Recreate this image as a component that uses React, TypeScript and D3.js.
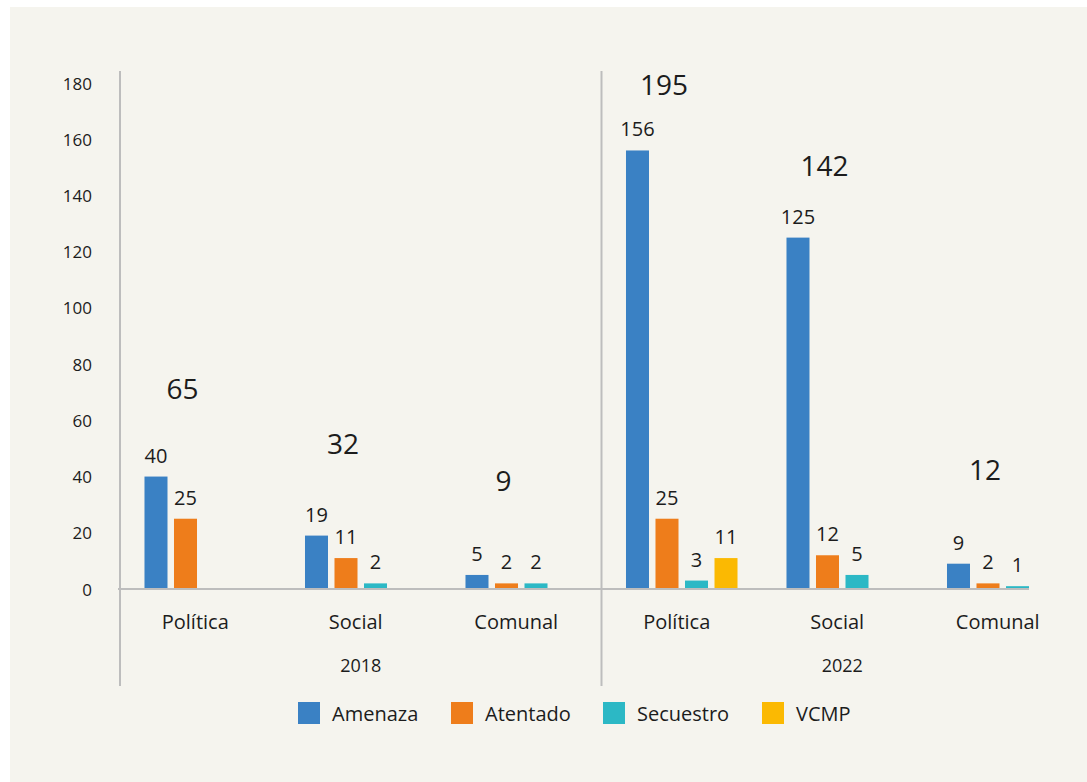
import React from "react";
import * as d3 from "d3";

const years = ["2018", "2022"];
const categories = ["Política", "Social", "Comunal"];
const series = ["Amenaza", "Atentado", "Secuestro", "VCMP"];
const seriesColors = ["#3a81c4", "#ee7d1b", "#2cb8c5", "#fbb902"];
// values per year, per category, per series (null = no bar)
const values2018: (number | null)[][] = [
  [40, 25, null, null],
  [19, 11, 2, null],
  [5, 2, 2, null],
];
const values2022: (number | null)[][] = [
  [156, 25, 3, 11],
  [125, 12, 5, null],
  [9, 2, 1, null],
];
const totals2018 = [65, 32, 9];
const totals2022 = [195, 142, 12];
const yTicks = [0, 20, 40, 60, 80, 100, 120, 140, 160, 180];

const W = 1087;
const H = 782;
const FONT = "'Open Sans', 'DejaVu Sans', sans-serif";
const TEXT = "#1c1c1c";
const AXIS = "#bdbdbd";

type Group = { key: string; year: string; cat: string; vals: (number | null)[]; total: number };

const groups: Group[] = [];
years.forEach((yr, yi) => {
  const vs = yi === 0 ? values2018 : values2022;
  const ts = yi === 0 ? totals2018 : totals2022;
  categories.forEach((c, ci) => {
    groups.push({ key: `${yr}-${c}`, year: yr, cat: c, vals: vs[ci], total: ts[ci] });
  });
});

export default function App() {
  const y = d3.scaleLinear().domain([0, 180]).range([589, 83]);
  const x0 = d3
    .scaleBand<string>()
    .domain(groups.map((g) => g.key))
    .range([120, 1083])
    .paddingInner(0)
    .paddingOuter(0);
  const x1 = d3
    .scaleBand<string>()
    .domain(series)
    .range([0, x0.bandwidth()])
    .paddingInner(0.22)
    .paddingOuter(0.83);
  const bw = x1.bandwidth();

  const yearCenter = (yr: string) => {
    const gs = groups.filter((g) => g.year === yr);
    const a = x0(gs[0].key)!;
    const b = x0(gs[gs.length - 1].key)! + x0.bandwidth();
    return (a + b) / 2;
  };
  const dividerX = x0(groups[categories.length].key)!;
  const lastGroup = groups[groups.length - 1];
  const lastIdx = lastGroup.vals.reduce((acc, v, i) => (v != null ? i : acc), 0);
  const baselineEnd = x0(lastGroup.key)! + x1(series[lastIdx])! + bw;

  // legend layout
  const legendWidths = [88, 87, 94, 57];
  const legendGapText = 12;
  const legendGapItem = 31;
  const sq = 22;
  let lx = 298;
  const legendItems = series.map((s, i) => {
    const item = { s, i, x: lx };
    lx += sq + legendGapText + legendWidths[i] + legendGapItem;
    return item;
  });

  return (
    <svg
      width={W}
      height={H}
      style={{ position: "fixed", left: 0, top: 0, background: "#ffffff" }}
      fontFamily={FONT}
    >
      <rect x={10} y={7} width={W - 10} height={H - 7} fill="#f5f4ee" />

      {/* y tick labels */}
      {yTicks.map((t) => (
        <text
          key={t}
          x={92}
          y={y(t)}
          textAnchor="end"
          dominantBaseline="central"
          fontSize={17}
          fill={TEXT}
        >
          {t}
        </text>
      ))}

      {/* axes */}
      <line x1={120} x2={120} y1={71} y2={686} stroke={AXIS} strokeWidth={2} />
      <line x1={dividerX} x2={dividerX} y1={71} y2={686} stroke={AXIS} strokeWidth={2} />

      {/* bars */}
      {groups.map((g) => (
        <g key={g.key} transform={`translate(${x0(g.key)},0)`}>
          {g.vals.map((v, i) =>
            v == null ? null : (
              <g key={series[i]}>
                <rect
                  x={x1(series[i])}
                  y={y(v)}
                  width={bw}
                  height={y(0) - y(v)}
                  fill={seriesColors[i]}
                />
                <text
                  x={x1(series[i])! + bw / 2}
                  y={y(v) - 14}
                  textAnchor="middle"
                  fontSize={20}
                  fill={TEXT}
                >
                  {v}
                </text>
              </g>
            )
          )}
          {(() => {
            const mx = d3.max(g.vals.map((v) => v ?? 0))!;
            return (
              <text
                x={x1("Atentado")! + bw / 2 - 3}
                y={y(mx) - (85 - 0.19 * mx)}
                textAnchor="middle"
                fontSize={28}
                fill={TEXT}
              >
                {g.total}
              </text>
            );
          })()}
          <text
            x={x0.bandwidth() / 2 - 5}
            y={629}
            textAnchor="middle"
            fontSize={20}
            fill={TEXT}
          >
            {g.cat}
          </text>
        </g>
      ))}

      {/* baseline */}
      <line x1={118} x2={baselineEnd} y1={y(0)} y2={y(0)} stroke={AXIS} strokeWidth={2} />

      {/* year labels */}
      {years.map((yr) => (
        <text
          key={yr}
          x={yearCenter(yr)}
          y={672}
          textAnchor="middle"
          fontSize={18}
          fill={TEXT}
        >
          {yr}
        </text>
      ))}

      {/* legend */}
      {legendItems.map((it) => (
        <g key={it.s}>
          <rect x={it.x} y={702} width={sq} height={sq} fill={seriesColors[it.i]} />
          <text
            x={it.x + sq + legendGapText}
            y={713}
            dominantBaseline="central"
            fontSize={20}
            fill={TEXT}
          >
            {it.s}
          </text>
        </g>
      ))}
    </svg>
  );
}
